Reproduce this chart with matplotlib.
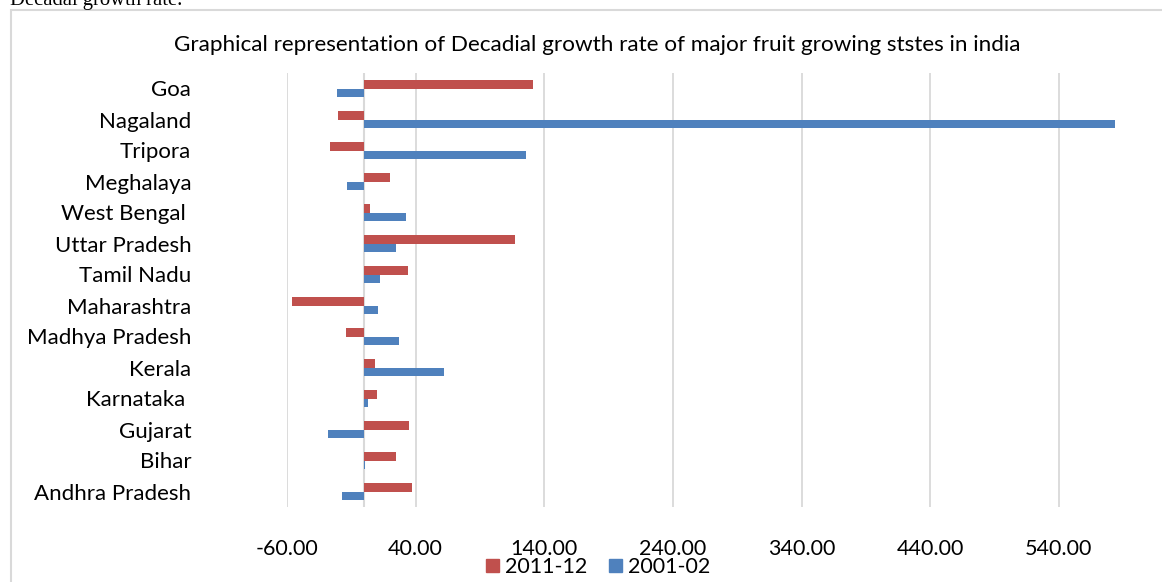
import matplotlib
matplotlib.use("Agg")
import matplotlib.pyplot as plt
from matplotlib.patches import Rectangle, Patch

categories = ["Andhra Pradesh", "Bihar", "Gujarat", "Karnataka ", "Kerala",
              "Madhya Pradesh", "Maharashtra", "Tamil Nadu", "Uttar Pradesh",
              "West Bengal ", "Meghalaya", "Tripora", "Nagaland", "Goa"]
growth_2011_12 = [36.9, 24.5, 34.6, 9.7, 8.2, -14.4, -56.4, 33.8, 117.0,
                  4.3, 20.0, -26.2, -20.0, 131.3]
growth_2001_02 = [-17.5, 0.5, -28.4, 2.7, 61.8, 26.8, 10.5, 12.1, 24.5,
                  32.3, -13.7, 126.0, 583.4, -21.5]
xticks = [-60, 40, 140, 240, 340, 440, 540]

RED = "#C0504D"
BLUE = "#4F81BD"
GRID = "#D9D9D9"
FONT = "Lato"

W, H = 1162, 582
fig = plt.figure(figsize=(W / 100, H / 100), dpi=100)
fig.patch.set_facecolor("white")

# chart border
fig.patches.append(Rectangle((11 / W, -0.1), 1.2, 1 - 9.5 / H + 0.1,
                             transform=fig.transFigure, fill=False,
                             edgecolor=GRID, linewidth=1.5))

fig.text(10 / W, 1 - 5 / H, "Decadal growth rate.", family="Liberation Serif",
         fontsize=14.9, va="baseline", ha="left", color="black")

ax = fig.add_axes([287 / W, 1 - 507 / H, (1187.5 - 287) / W, (507 - 73) / H])
ax.set_xlim(-60, 640)
ax.set_ylim(-0.5, len(categories) - 0.5)

bh = 0.27
ypos = list(range(len(categories)))
ax.barh([y + bh / 2 for y in ypos], growth_2011_12, height=bh, color=RED,
        label="2011-12", zorder=3)
ax.barh([y - bh / 2 for y in ypos], growth_2001_02, height=bh, color=BLUE,
        label="2001-02", zorder=3)

ax.set_xticks(xticks)
ax.set_xticklabels([f"{v:.2f}" for v in xticks], family=FONT, fontsize=15.5)
ax.set_yticks(ypos)
ax.set_yticklabels(categories, family=FONT, fontsize=16)
ax.tick_params(axis="both", length=0, colors="black")
ax.tick_params(axis="y", pad=69)
ax.tick_params(axis="x", pad=23)

ax.grid(axis="x", color=GRID, linewidth=1.3, zorder=0)
ax.axvline(0, color=GRID, linewidth=1.5, zorder=2)
for s in ax.spines.values():
    s.set_visible(False)

fig.text(597 / W, 1 - 45 / H,
         "Graphical representation of Decadial growth rate of major fruit growing ststes in india",
         family=FONT, fontsize=16.2, ha="center", va="center", color="black")

handles = [Patch(color=RED, label="2011-12"), Patch(color=BLUE, label="2001-02")]
fig.legend(handles=handles, loc="center", bbox_to_anchor=(598 / W, 1 - 567 / H),
           ncol=2, frameon=False, prop={"family": FONT, "size": 15.5},
           handlelength=0.6, handleheight=0.6, handletextpad=0.3,
           columnspacing=1.0, borderpad=0)

fig.savefig("out.png", dpi=100, facecolor="white")
